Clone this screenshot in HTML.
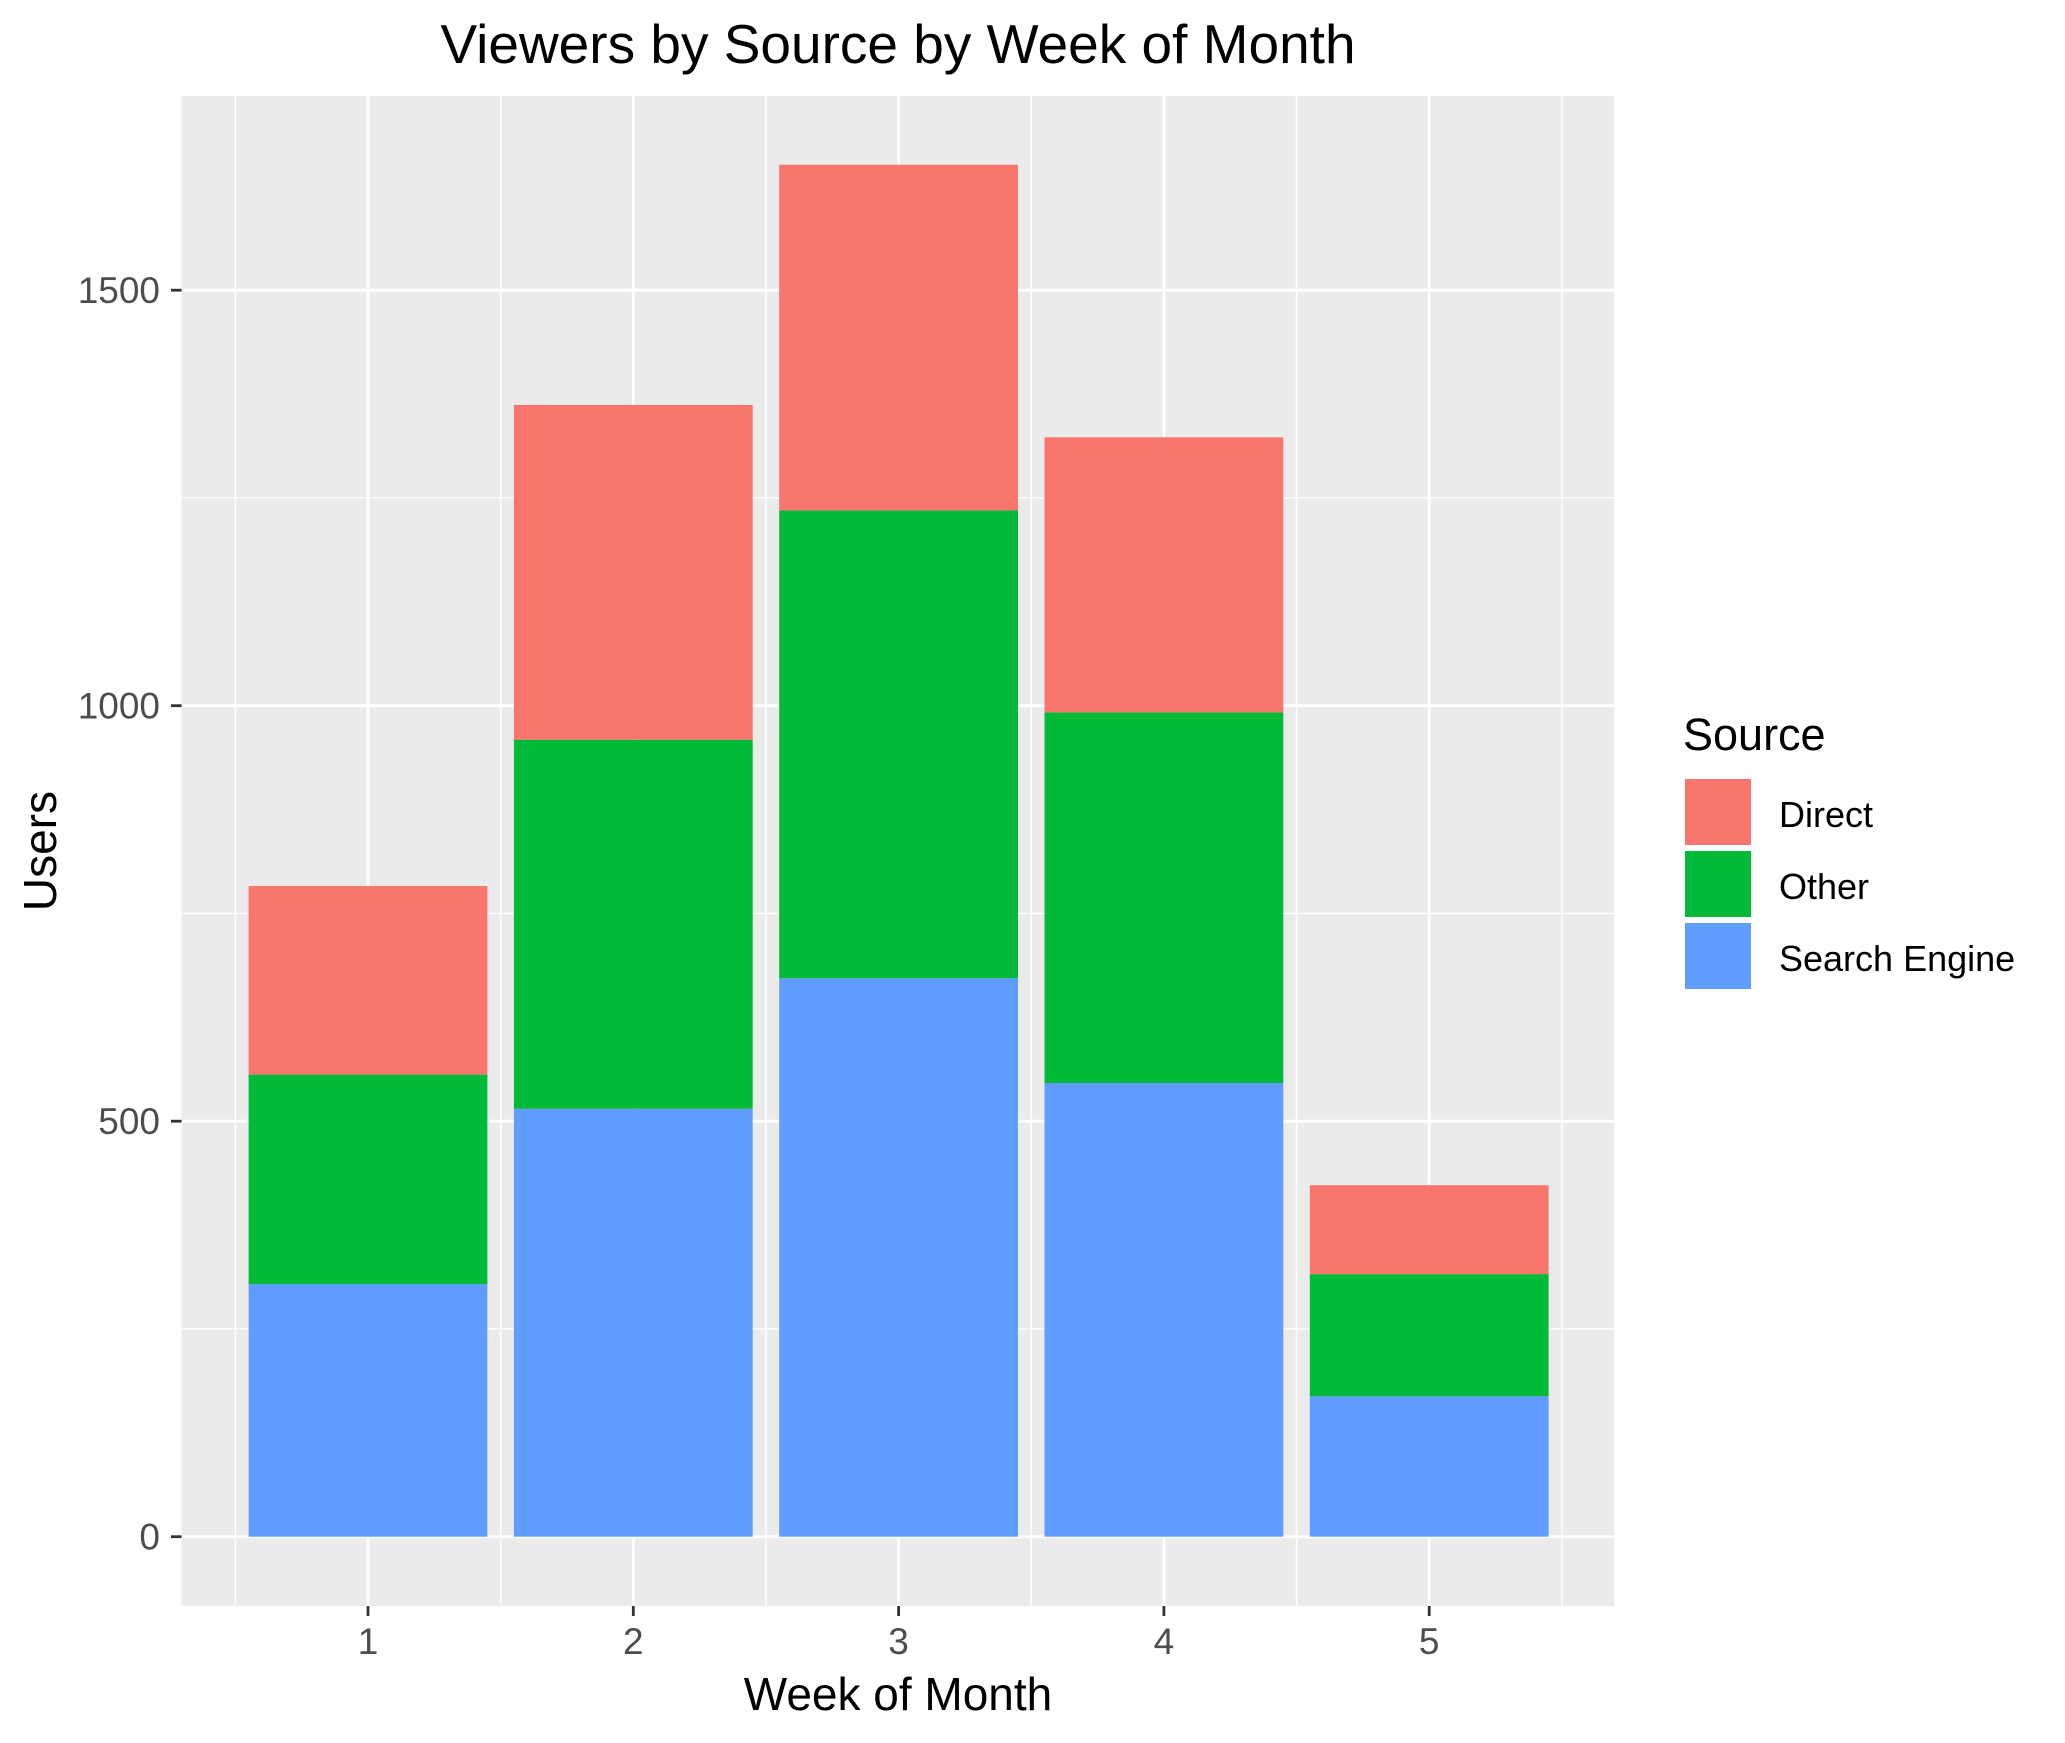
<!DOCTYPE html>
<html><head><meta charset="utf-8"><style>
html,body{margin:0;padding:0;background:#fff;}
svg{display:block;font-family:"Liberation Sans",Arial,sans-serif;}
</style></head><body>
<svg id="chart" width="2065" height="1743" viewBox="0 0 2065 1743" xmlns="http://www.w3.org/2000/svg"></svg>
<script>
const categories = ["1","2","3","4","5"];
const seriesNames = ["Search Engine","Other","Direct"];
const searchEngine = [304,515,672,546,169];
const other = [252,444,563,446,147];
const direct = [227,403,416,331,107];
const yTicks = [0,500,1000,1500];
const yMinor = [250,750,1250];

const colors = {"Direct":"#F8766D","Other":"#00BA38","Search Engine":"#619CFF"};
const svg = document.getElementById('chart');
const NS = "http://www.w3.org/2000/svg";
const P = {left:181.6, right:1614, top:96, bottom:1606};
const y0px = 1536.7, pxPerUnit = 0.831;
const x1px = 368, step = 265.3;
function yScale(v){ return y0px - v*pxPerUnit; }
function xScale(i){ return x1px + i*step; }
function mk(tag, attrs){ const e=document.createElementNS(NS,tag); for(const k in attrs) e.setAttribute(k,attrs[k]); svg.appendChild(e); return e; }

const bg = mk('rect',{x:P.left,y:P.top,width:P.right-P.left,height:P.bottom-P.top,fill:'#EBEBEB'});



yMinor.forEach(v=>{ const l=mk('line',{x1:P.left,x2:P.right,y1:yScale(v),y2:yScale(v),stroke:'#fff','stroke-width':1.4});
    });
categories.forEach((c,i)=>{ [-0.5,0.5].forEach(o=>{ const l=mk('line',{x1:xScale(i+o),x2:xScale(i+o),y1:P.top,y2:P.bottom,stroke:'#fff','stroke-width':1.4});
    }); });
yTicks.forEach(v=>{ const l=mk('line',{x1:P.left,x2:P.right,y1:yScale(v),y2:yScale(v),stroke:'#fff','stroke-width':2.8});
    });
categories.forEach((c,i)=>{ const l=mk('line',{x1:xScale(i),x2:xScale(i),y1:P.top,y2:P.bottom,stroke:'#fff','stroke-width':2.8});
    });

const seriesData = {"Search Engine":searchEngine,"Other":other,"Direct":direct};
const bw = step*0.9;
categories.forEach((c,i)=>{
  let base=0;
  seriesNames.forEach(s=>{
    const v=seriesData[s][i];
    const r=mk('rect',{x:xScale(i)-bw/2,y:yScale(base+v),width:bw,height:yScale(base)-yScale(base+v),fill:colors[s]});
    
    
    base+=v;
  });
});

yTicks.forEach(v=>{
  const t=mk('line',{x1:171,x2:P.left,y1:yScale(v),y2:yScale(v),stroke:'#333','stroke-width':2.8});
   
  const tx=mk('text',{x:160,y:yScale(v)+13,'text-anchor':'end','font-size':37,fill:'#4D4D4D'});
  tx.textContent=v;  
});
categories.forEach((c,i)=>{
  const t=mk('line',{x1:xScale(i),x2:xScale(i),y1:P.bottom,y2:P.bottom+10,stroke:'#333','stroke-width':2.8});
   
  const tx=mk('text',{x:xScale(i),y:1654,'text-anchor':'middle','font-size':37,fill:'#4D4D4D'});
  tx.textContent=c;  
});

const title=mk('text',{x:898,y:63,'text-anchor':'middle','font-size':55,fill:'#000'});
title.textContent='Viewers by Source by Week of Month';
 
const xt=mk('text',{x:898,y:1710,'text-anchor':'middle','font-size':46,fill:'#000'});
xt.textContent='Week of Month';
 
const yt=mk('text',{x:0,y:0,'text-anchor':'middle','font-size':46,fill:'#000',transform:'translate(56,851) rotate(-90)'});
yt.textContent='Users';
 

const lt=mk('text',{x:1683,y:750,'font-size':45,fill:'#000'});
lt.textContent='Source';
 
["Direct","Other","Search Engine"].forEach((s,k)=>{
  const ky=779+k*72;
  const r=mk('rect',{x:1685,y:ky,width:66,height:66,fill:colors[s]});
   
  const t=mk('text',{x:1779,y:ky+48,'font-size':36,fill:'#000'});
  t.textContent=s;
   
});
</script>
</body></html>
